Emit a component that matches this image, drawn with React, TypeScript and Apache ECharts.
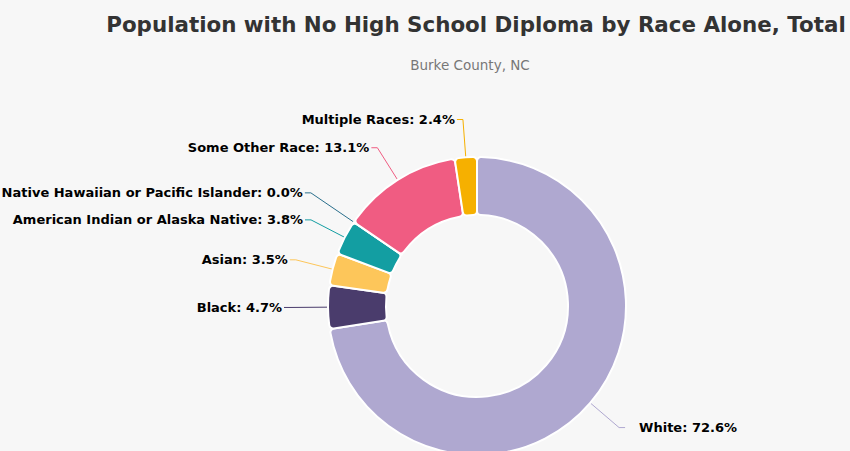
import React, { useEffect, useRef } from 'react';
import * as echarts from 'echarts';

const categories = [
  'White',
  'Black',
  'Asian',
  'American Indian or Alaska Native',
  'Native Hawaiian or Pacific Islander',
  'Some Other Race',
  'Multiple Races',
];
const values = [72.6, 4.7, 3.5, 3.8, 0.0, 13.1, 2.4];
const colors = ['#afa8d0', '#4a3c6c', '#fdc65a', '#139ea2', '#2a6f8c', '#f05c82', '#f6b000'];
const titleText = 'Population with No High School Diploma by Race Alone, Total';
const subtitleText = 'Burke County, NC';

export default function App() {
  const ref = useRef<HTMLDivElement>(null);
  useEffect(() => {
    if (!ref.current) return;
    const chart = echarts.init(ref.current, undefined, { renderer: 'svg' });
    chart.setOption({
      animation: false,
      backgroundColor: '#f7f7f7',
      title: [
        {
          text: titleText,
          left: 471,
          top: 9,
          textAlign: 'center',
          textStyle: { fontFamily: 'DejaVu Sans', fontWeight: 'bold', fontSize: 21.4, color: '#333' },
        },
        {
          text: subtitleText,
          left: 465,
          top: 53,
          textAlign: 'center',
          textStyle: { fontFamily: 'DejaVu Sans', fontWeight: 'normal', fontSize: 13.5, color: '#777' },
        },
      ],
      series: [
        {
          type: 'pie',
          center: [477, 306],
          radius: [91, 149],
          startAngle: 90,
          clockwise: true,
          avoidLabelOverlap: true,
          emphasis: { disabled: true },
          itemStyle: { borderColor: '#ffffff', borderWidth: 2, borderRadius: 4 },
          label: {
            show: true,
            formatter: (p: any) => `${p.name}: ${Number(p.value).toFixed(1)}%`,
            color: '#000',
            fontWeight: 'bold',
            fontSize: 13,
            lineHeight: 22,
            fontFamily: 'DejaVu Sans',
            overflow: 'none',
            distanceToLabelLine: 2,
          },
          labelLine: { show: true, length: 38, length2: 6, lineStyle: { width: 1 } },
          data: categories.map((c, i) => ({
            name: c,
            value: values[i],
            itemStyle: { color: colors[i] },
            ...(values[i] === 0 ? { labelLine: { length: 52 } } : {}),
            ...(i === 0 ? { label: { distanceToLabelLine: 14 } } : {}),
          })),
        },
      ],
    });
    return () => chart.dispose();
  }, []);
  return <div ref={ref} style={{ position: 'fixed', left: 0, top: 0, width: 850, height: 451 }} />;
}
